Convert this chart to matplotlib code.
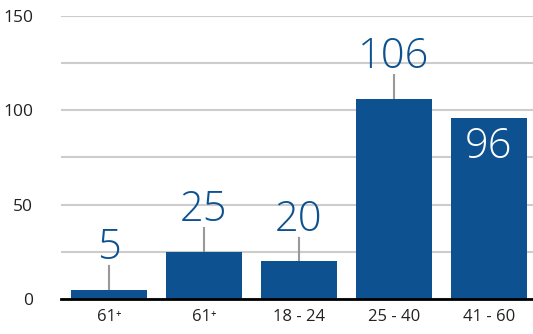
import numpy as np
import matplotlib.pyplot as plt

# age groups and counts
groups = ['61⁺', '61⁺', '18 - 24', '25 - 40', '41 - 60']
counts = [5, 25, 20, 106, 96]
inside = [False, False, False, False, True]

blue = '#0e5190'
plt.rcParams['font.family'] = ['Open Sans', 'DejaVu Sans']

fig = plt.figure(figsize=(5.33, 3.34), dpi=100)
ax = fig.add_axes([0.1144, 0.1048, 0.8856, 0.8473])

x = np.arange(len(counts))
ax.bar(x, counts, width=0.8, color=blue, zorder=3)

ax.set_xlim(-0.505, 4.465)
ax.set_ylim(0, 150)
ax.set_yticks([0, 50, 100, 150])
ax.set_yticks([25, 75, 125], minor=True)
ax.grid(axis='y', which='both', color='#cccccc', linewidth=1.5, zorder=0)
ax.tick_params(axis='y', which='both', length=0, pad=20, labelsize=12.5,
               labelcolor='#222222')
ax.set_xticks(x)
ax.set_xticklabels(groups)
ax.tick_params(axis='x', length=0, pad=7, labelsize=12, labelcolor='#222222')
for s in ['top', 'right', 'left']:
    ax.spines[s].set_visible(False)
ax.spines['bottom'].set_linewidth(2)
ax.spines['bottom'].set_color('black')
ax.spines['bottom'].set_zorder(4)

# value labels: leader line above the bar, or white text inside
for xi, v, ins in zip(x, counts, inside):
    if ins:
        ax.text(xi, v - 4, str(v), ha='center', va='top', color='white',
                fontsize=30, fontweight='light', zorder=5)
    else:
        ax.plot([xi, xi], [v, v + 12.5], color='#999999', linewidth=1.5,
                zorder=2, clip_on=False)
        ax.text(xi, v + 11, str(v), ha='center', va='bottom', color=blue,
                fontsize=30, fontweight='light', zorder=5, clip_on=False)

fig.savefig('out.png', dpi=100)
